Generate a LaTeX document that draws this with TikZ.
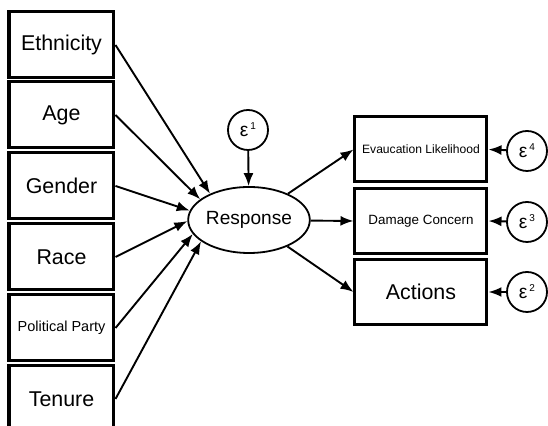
\documentclass[tikz,border=0pt]{standalone}
\usepackage{fontspec}
\setmainfont{Liberation Sans}
\usetikzlibrary{shapes.geometric,arrows.meta}

\newcommand{\errsup}[1]{\kern1pt\raisebox{3.5pt}{\fontsize{5}{6}\selectfont #1}}

\tikzset{
  var/.style={draw, line width=1.5pt, minimum width=52.5pt, minimum height=33pt,
    inner sep=0pt, font=\fontsize{10.7}{12}\selectfont},
  outvar/.style={var, minimum width=66pt, minimum height=32.5pt},
  latent/.style={draw, ellipse, line width=0.9pt, minimum width=51pt, minimum height=33pt,
    inner sep=0pt, font=\fontsize{9.55}{11}\selectfont},
  err/.style={draw, circle, line width=0.9pt, minimum size=20pt, inner sep=0pt,
    font=\fontsize{9.6}{11}\selectfont},
  link/.style={-{Latex[length=6.5pt,width=5pt]}, line width=0.95pt}
}

\begin{document}
\begin{tikzpicture}[x=0.5pt,y=-0.5pt]
\useasboundingbox (0,0) rectangle (548,426);
\clip (0,0) rectangle (548,426);

\node[var] (eth) at (61.5,45) {Ethnicity};
\node[var] (age) at (61.5,115) {Age};
\node[var] (gen) at (61.5,186) {Gender};
\node[var] (race) at (61.5,257) {Race};
\node[var, font=\fontsize{7.25}{9}\selectfont] (party) at (61.5,328) {Political Party};
\node[var] (ten) at (61.5,399) {Tenure};

\node[latent] (resp) at (249,220) {Response};
\node[err] (e1) at (248,130) {ε\errsup{1}};

\node[outvar, font=\fontsize{6.05}{7}\selectfont] (evac) at (421,149.5) {Evaucation Likelihood};
\node[outvar, font=\fontsize{6.7}{8}\selectfont] (dmg) at (421,221) {Damage Concern};
\node[outvar] (act) at (421,292) {Actions};

\node[err] (e4) at (527,151) {ε\errsup{4}};
\node[err] (e3) at (527,222) {ε\errsup{3}};
\node[err] (e2) at (527,292) {ε\errsup{2}};

\draw[link] (eth.east) -- (resp.146);
\draw[link] (age.east) -- (resp.157);
\draw[link] (gen.east) -- (resp.171);
\draw[link] (race.east) -- (resp.181);
\draw[link] (party.east) -- (resp.194);
\draw[link] (ten.east) -- (resp.204);

\draw[link] (e1) -- (resp);

\draw[link] (resp) -- (evac.west);
\draw[link] (resp) -- (dmg.west);
\draw[link] (resp) -- (act.west);

\draw[link] (e4) -- (evac.east);
\draw[link] (e3) -- (dmg.east);
\draw[link] (e2) -- (act.east);
\end{tikzpicture}
\end{document}
